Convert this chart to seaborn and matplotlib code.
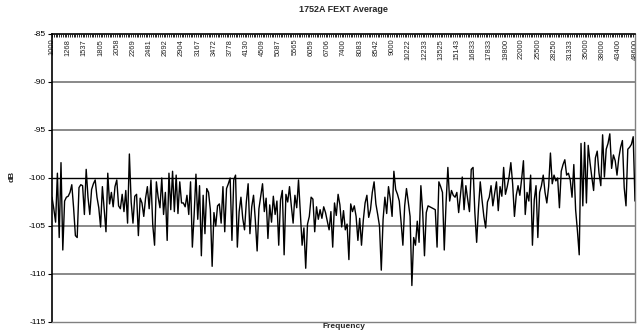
import matplotlib
matplotlib.use("Agg")
import matplotlib.pyplot as plt
import seaborn as sns
import pandas as pd

# ---- data -------------------------------------------------------------
freq_labels = ["1000", "1268", "1537", "1805", "2058", "2269", "2481", "2692",
               "2904", "3167", "3472", "3778", "4130", "4509", "5087", "5565",
               "6059", "6706", "7400", "8083", "8542", "9000", "10222", "12233",
               "13525", "15143", "16833", "17833", "19800", "22000", "25500",
               "28250", "31333", "35000", "38000", "43400", "48600"]
points_per_label = 9

fext_db = [
    # 0-10
    -102.0, -103.2, -104.6, -99.5, -106.2, -98.4, -107.5, -102.4, -102.0, -101.9, -101.5,
    # 11-20
    -100.7, -103.1, -106.0, -106.2, -101.0, -100.7, -100.8, -103.8, -99.1, -102.0,
    # 21-30
    -103.8, -101.2, -100.6, -100.2, -102.0, -103.1, -105.1, -100.9, -103.3, -105.6,
    # 31-40
    -99.5, -102.7, -101.5, -103.0, -100.9, -100.2, -102.9, -103.2, -101.7, -103.5,
    # 41-50
    -101.3, -104.7, -97.5, -102.5, -104.7, -101.9, -101.7, -106.0, -102.1, -102.6,
    # 51-60
    -104.0, -102.1, -100.9, -103.2, -100.2, -104.9, -107.0, -100.4, -102.0, -103.1,
    # 61-70
    -100.0, -103.8, -101.5, -106.5, -99.5, -103.3, -99.3, -103.5, -99.7, -103.7,
    # 71-80
    -100.4, -102.6, -102.6, -103.0, -101.8, -103.8, -100.4, -107.2, -103.8, -99.6,
    # 81-90
    -104.3, -100.8, -108.1, -101.8, -105.8, -101.1, -101.5, -103.3, -109.2, -103.6,
    # 91-100
    -105.0, -102.9, -102.7, -104.7, -100.9, -105.6, -101.1, -100.6, -100.0, -106.5,
    # 101-110
    -100.2, -99.7, -107.2, -103.5, -102.0, -104.2, -105.4, -102.5, -100.6, -105.8,
    # 111-120
    -103.0, -101.8, -104.4, -107.6, -103.2, -101.9, -100.6, -103.5, -102.1, -106.3,
    # 121-130
    -102.8, -104.6, -101.9, -103.8, -102.4, -107.0, -102.3, -101.3, -108.0, -101.7,
    # 131-140
    -102.5, -100.9, -102.9, -104.7, -101.8, -103.1, -100.2, -103.6, -107.0, -105.2,
    # 141-150
    -109.4, -104.8, -104.0, -102.0, -102.2, -105.6, -103.0, -104.3, -103.3, -104.2,
    # 151-160
    -103.0, -103.6, -104.5, -105.4, -103.5, -107.2, -102.6, -103.9, -101.7, -102.8,
    # 161-170
    -105.1, -103.4, -105.4, -104.8, -108.5, -102.7, -103.5, -102.9, -104.0, -106.5,
    # 171-180
    -104.2, -107.0, -104.4, -102.6, -101.8, -104.1, -103.3, -101.5, -100.4, -102.7,
    # 181-190
    -103.8, -105.0, -109.6, -104.3, -102.0, -103.7, -100.9, -102.2, -104.0, -99.3,
    # 191-200
    -101.2, -101.7, -102.4, -104.6, -107.0, -102.9, -101.1, -102.5, -104.0, -111.2,
    # 201-210
    -106.2, -107.0, -104.5, -106.7, -100.8, -103.5, -108.1, -103.6, -102.9, -103.0,
    # 211-220
    -103.1, -103.2, -103.3, -107.2, -100.4, -100.9, -101.5, -107.5, -102.6, -98.9,
    # 221-230
    -102.4, -101.3, -101.8, -102.0, -101.5, -103.6, -101.7, -99.9, -103.3, -100.8,
    # 231-240
    -102.2, -103.5, -99.1, -98.9, -103.6, -106.7, -103.2, -100.4, -102.3, -104.0,
    # 241-250
    -105.2, -102.5, -102.0, -100.8, -102.9, -101.6, -100.4, -103.4, -100.9, -101.9,
    # 251-260
    -98.9, -101.7, -100.9, -99.9, -98.4, -100.6, -104.0, -101.8, -100.8, -101.8,
    # 261-270
    -100.1, -98.2, -103.8, -101.5, -102.4, -99.7, -107.0, -102.3, -100.8, -106.2,
    # 271-280
    -101.5, -100.8, -99.7, -101.5, -102.6, -100.9, -97.4, -100.6, -99.7, -100.3,
    # 281-290
    -100.0, -103.1, -99.3, -98.6, -98.1, -99.7, -99.5, -100.2, -102.0, -98.6,
    # 291-300
    -103.3, -105.5, -108.0, -96.4, -102.9, -96.3, -102.6, -96.6, -98.4, -99.9,
    # 301-310
    -101.3, -97.9, -97.2, -99.5, -100.8, -95.5, -99.9, -97.0, -96.4, -95.4,
    # 311-320
    -99.0, -97.6, -98.2, -99.7, -97.9, -96.8, -96.1, -101.0, -102.9, -97.0,
    # 321-324
    -96.8, -96.5, -95.7, -102.4,
]

y_ticks = [-115, -110, -105, -100, -95, -90, -85]

# ---- figure -----------------------------------------------------------
sns.set_theme(style="white")
plt.rcParams["font.family"] = ["Liberation Sans", "DejaVu Sans"]

W, H = 639, 331
fig = plt.figure(figsize=(W / 100, H / 100), dpi=100)
fig.patch.set_facecolor("white")
L, R, T, B = 52, 635, 34, 322
ax = fig.add_axes([L / W, 1 - B / H, (R - L) / W, (B - T) / H])
ax.set_facecolor("white")

df = pd.DataFrame({"idx": range(len(fext_db)), "dB": fext_db})
sns.lineplot(data=df, x="idx", y="dB", color="black", linewidth=1.0, ax=ax, zorder=3)

ax.set_xlim(0, len(fext_db) - 1)
ax.set_ylim(-115, -85)

# gridlines
for yv in [-110, -105, -95, -90]:
    ax.axhline(yv, color="#808080", linewidth=1.3, zorder=1)
ax.axhline(-100, color="black", linewidth=1.0, zorder=2)

# y axis
ax.set_yticks(y_ticks)
ax.set_yticklabels([str(v) for v in y_ticks])
ax.tick_params(axis="y", left=True, direction="out", length=3, width=0.8,
               labelsize=6, pad=1.5, color="black", labelcolor="black")

# x axis (category labels along the top, inside)
major_pos = list(range(0, len(fext_db), points_per_label))
ax.set_xticks(major_pos)
ax.set_xticklabels(freq_labels, rotation=90)
ax.set_xticks(range(len(fext_db)), minor=True)
ax.tick_params(axis="x", which="both", bottom=False, labelbottom=False,
               top=True, labeltop=True, direction="in", color="black")
ax.tick_params(axis="x", which="minor", length=2.5, width=0.6)
ax.tick_params(axis="x", which="major", length=2.5, width=0.6, pad=-3.5,
               labelsize=5.4, labelcolor="#222222")
for t in ax.get_xticklabels():
    t.set_va("top")

ax.set_xlabel("")
ax.set_ylabel("")

for side, col, lw in [("top", "black", 1.2), ("left", "black", 1.2),
                      ("right", "#808080", 1.0), ("bottom", "#808080", 1.0)]:
    ax.spines[side].set_visible(True)
    ax.spines[side].set_color(col)
    ax.spines[side].set_linewidth(lw)

# texts
cx = (L + R) / 2 / W
fig.text(cx, 1 - 10 / H, "1752A FEXT Average", ha="center", va="center",
         fontsize=6.5, fontweight="bold")
fig.text(cx, 1 - 326 / H, "Frequency", ha="center", va="center",
         fontsize=6, fontweight="bold")
fig.text(12 / W, 1 - 176 / H, "dB", ha="center", va="center", rotation=90,
         fontsize=6, fontweight="bold")

fig.savefig("out.png", dpi=100, facecolor="white")
